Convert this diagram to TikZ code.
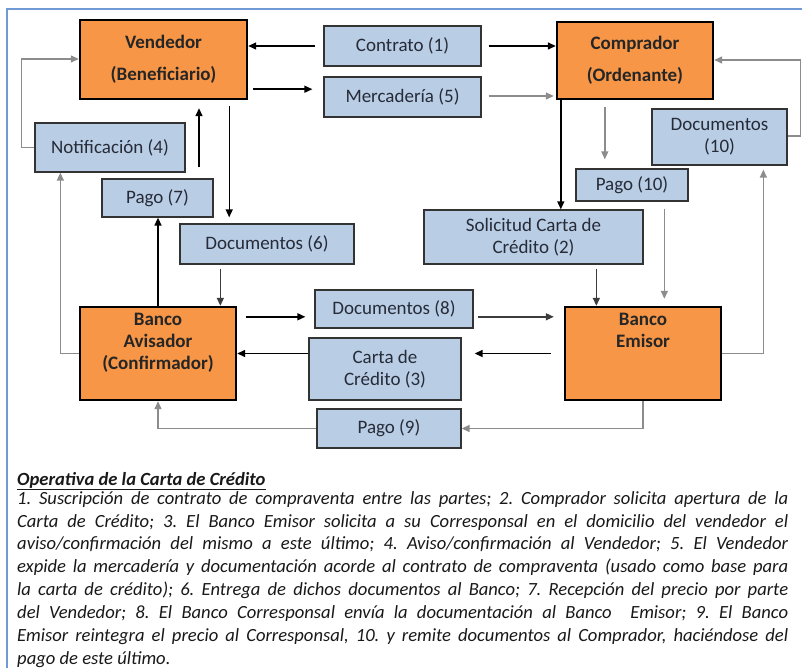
\documentclass[tikz,border=0pt]{standalone}
\usepackage{fontspec}
\setmainfont{Carlito}
\usetikzlibrary{arrows.meta,calc}
\frenchspacing
\definecolor{orangefill}{HTML}{F79646}
\definecolor{bluefill}{HTML}{B9CDE5}
\definecolor{boxtext}{HTML}{262B38}
\definecolor{framecol}{HTML}{6F9AD6}
\definecolor{graycon}{HTML}{8C8C8C}
\definecolor{darkcon}{HTML}{3C3C3C}
\tikzset{
  orangebox/.style={draw=black, line width=2.4pt, fill=orangefill, inner sep=0pt, align=center,
     font=\fontsize{19}{22}\selectfont\bfseries, text=black!85},
  bluebox/.style={draw=black!80, line width=1.3pt, fill=bluefill, inner sep=0pt, align=center,
     font=\fontsize{19}{22}\selectfont, text=boxtext},
  arr/.style={line width=1.4pt, -{Triangle[length=8pt,width=7pt]}},
  blk/.style={arr, draw=black},
  gry/.style={arr, draw=graycon},
  dgr/.style={arr, draw=darkcon},
}
\begin{document}
\begin{tikzpicture}[x=1pt,y=-1pt]
\useasboundingbox (0,0) rectangle (802,668);
\fill[white] (0,0) rectangle (802,668);
\draw[framecol, line width=1.3pt] (7,668) -- (7,9) -- (802,9);

% main boxes
\node[orangebox, minimum width=167pt, minimum height=79pt] (vend) at (163.5,59.5) {Vendedor\\[10pt](Beneficiario)};
\node[orangebox, minimum width=156pt, minimum height=77pt] (comp) at (635,60.5) {Comprador\\[10pt](Ordenante)};
\node[orangebox, minimum width=156pt, minimum height=93pt] (ba) at (158,353.5) {Banco\\Avisador\\(Confirmador)\\[-4pt]\strut};
\node[orangebox, minimum width=156pt, minimum height=93pt] (be) at (643,353.5) {Banco\\Emisor\\ \strut\\[-4pt]\strut};

% flow boxes
\node[bluebox, minimum width=157pt, minimum height=40pt] (contrato) at (402.5,46) {Contrato (1)};
\node[bluebox, minimum width=157pt, minimum height=40pt] (merc) at (402.5,97) {Mercadería (5)};
\node[bluebox, minimum width=135pt, minimum height=56pt] (doc10) at (719.5,137) {Documentos\\(10)};
\node[bluebox, minimum width=112pt, minimum height=32pt] (pago10) at (632,185) {Pago (10)};
\node[bluebox, minimum width=150pt, minimum height=49pt] (notif) at (110,147.5) {Notificación (4)};
\node[bluebox, minimum width=111pt, minimum height=38pt] (pago7) at (157.5,198) {Pago (7)};
\node[bluebox, minimum width=174pt, minimum height=40pt] (doc6) at (267,244) {Documentos (6)};
\node[bluebox, minimum width=219pt, minimum height=54pt] (sol) at (533.5,237) {Solicitud Carta de\\Crédito (2)};
\node[bluebox, minimum width=158pt, minimum height=38pt] (doc8) at (394,309) {Documentos (8)};
\node[bluebox, minimum width=152pt, minimum height=62pt] (carta3) at (385,369) {Carta de\\Crédito (3)};
\node[bluebox, minimum width=144pt, minimum height=39pt] (pago9) at (389,428.5) {Pago (9)};

% connectors
\draw[blk] ([xshift=-8pt]contrato.west) -- (contrato.west -| vend.east);
\draw[blk] ([xshift=7pt]contrato.east) -- (contrato.east -| comp.west);
\coordinate (vm) at ([shift={(5pt,11pt)}]vend.south east);
\draw[blk] (vm) -- ([xshift=-11pt]vm -| merc.west);
\coordinate (mc) at ([yshift=1pt]merc.east);
\draw[gry] ([xshift=7pt]mc) -- ([xshift=-2pt]mc -| comp.west);
\draw[gry] (notif.west) -- ++(-13,0) |- ([yshift=0.5pt]vend.west);
\coordinate (p7a) at ([shift={(41.5pt,11pt)}]pago7.north);
\draw[blk] (p7a) -- ([yshift=-8pt]p7a |- vend.south);
\coordinate (v6) at ([shift={(-19pt,-6pt)}]vend.south east);
\draw[blk] (v6) -- ([yshift=6pt]v6 |- doc6.north);
\draw[gry] (ba.west) -| ([xshift=26pt]notif.south west);
\draw[blk] (ba.north) -- (ba.north |- pago7.south);
\coordinate (d6) at ([shift={(41pt,-4pt)}]doc6.south west);
\draw[dgr] (d6) -- (d6 |- ba.north);
\coordinate (a8) at ([shift={(9pt,-11pt)}]ba.north east);
\draw[blk] (a8) -- ([xshift=-9pt]a8 -| doc8.west);
\draw[dgr] ([xshift=4pt]a8 -| doc8.east) -- ([xshift=-10pt]a8 -| be.west);
\draw[blk] ([xshift=-13pt]be.west) -- ([xshift=13pt]be.west -| carta3.east);
\draw[blk] (ba.east -| carta3.west) -- (ba.east);
\draw[gry] (be.south) |- (pago9.east);
\draw[gry] (pago9.west) -| (ba.south);
\coordinate (cs) at ([xshift=5pt]comp.south west);
\draw[blk] (cs) -- (cs |- sol.north);
\coordinate (cp) at ([shift={(49pt,-7pt)}]comp.south west);
\draw[gry] (cp) -- ([yshift=9pt]cp |- pago10.north);
\coordinate (sb) at ([shift={(173pt,-4pt)}]sol.south west);
\draw[dgr] (sb) -- (sb |- be.north);
\coordinate (pb) at ([shift={(89pt,-7pt)}]pago10.south west);
\draw[gry] (pb) -- ([yshift=7pt]pb |- be.north);
\draw[gry, shorten >=4pt] (be.east) -| ([xshift=112pt]doc10.south west);
\draw[gry] ([yshift=1pt]doc10.east) -- ++(13,0) |- ([yshift=0.5pt]comp.east);

% description
\node[anchor=north west, inner sep=0pt, text width=771pt, align=justify,
      font=\fontsize{18.6}{22.9}\selectfont\itshape, text=black!90] (desc) at (17,472)
{\textbf{\underline{Operativa de la Carta de Crédito}}\\[-4pt]
1. Suscripción de contrato de compraventa entre las partes; 2. Comprador solicita apertura de la\linebreak
Carta de Crédito; 3. El Banco Emisor solicita a su Corresponsal en el domicilio del vendedor el\linebreak
aviso/confirmación del mismo a este último; 4. Aviso/confirmación al Vendedor; 5. El Vendedor\linebreak
expide la mercadería y documentación acorde al contrato de compraventa (usado como base para\linebreak
la carta de crédito); 6. Entrega de dichos documentos al Banco; 7. Recepción del precio por parte\linebreak
del Vendedor; 8. El Banco Corresponsal envía la documentación al Banco~~Emisor; 9. El Banco\linebreak
Emisor reintegra el precio al Corresponsal, 10. y remite documentos al Comprador, haciéndose del\linebreak
pago de este último.};
\end{tikzpicture}
\end{document}
